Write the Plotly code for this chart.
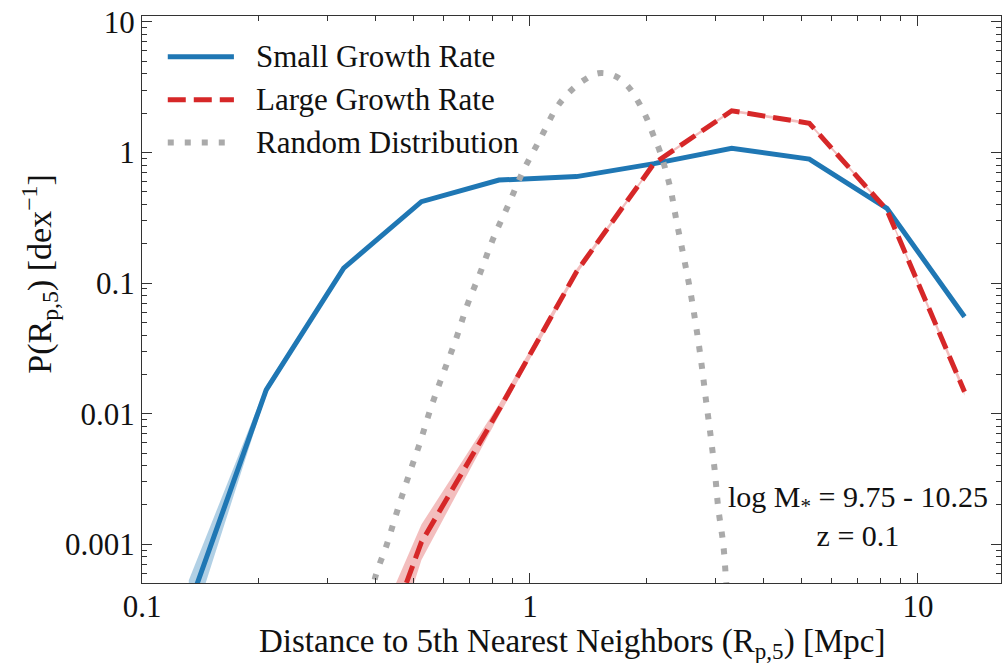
import plotly.graph_objects as go

# Projected distance to the 5th nearest neighbour, bin centres [Mpc]
r_bins = [0.132, 0.209, 0.331, 0.525, 0.832, 1.318, 2.089, 3.311, 5.248, 8.318, 13.18]

# Small growth rate sample: median and band
small_p = [3.3e-4, 0.0152, 0.130, 0.419, 0.614, 0.652, 0.820, 1.074, 0.889, 0.373, 0.0552]
small_lo = [2.0e-4, 0.0141, 0.126, 0.410, 0.602, 0.640, 0.805, 1.055, 0.872, 0.365, 0.0538]
small_hi = [5.3e-4, 0.0164, 0.134, 0.428, 0.626, 0.664, 0.835, 1.093, 0.906, 0.381, 0.0566]

# Large growth rate sample: median and band (starts at the third bin)
large_r = r_bins[2:]
large_p = [2.5e-5, 1.04e-3, 0.0107, 0.122, 0.824, 2.08, 1.67, 0.362, 0.0147]
large_lo = [1.0e-5, 7.6e-4, 0.0097, 0.116, 0.805, 2.03, 1.63, 0.352, 0.0138]
large_hi = [6.0e-5, 1.42e-3, 0.0118, 0.128, 0.843, 2.13, 1.71, 0.372, 0.0157]

# Random (uniform) distribution reference curve
random_r = [0.3936, 0.3986, 0.4272, 0.4550, 0.4856, 0.5206, 0.5556, 0.5976, 0.6434,
            0.6894, 0.7462, 0.8042, 0.8793, 0.9610, 1.0612, 1.1719, 1.2552, 1.3594,
            1.4997, 1.6558, 1.7920, 1.9011, 1.9989, 2.0787, 2.1627, 2.2953, 2.3878,
            2.4946, 2.5954, 2.6890, 2.7700, 2.8417, 2.9220, 2.9976, 3.0569, 3.1492,
            3.2005, 3.228]
random_p = [3.98e-4, 5.50e-4, 9.89e-4, 1.807e-3, 3.289e-3, 5.998e-3, 0.01112, 0.02037,
            0.03664, 0.06792, 0.1221, 0.2198, 0.3954, 0.7236, 1.259, 2.203, 2.831, 3.475,
            4.027, 3.837, 3.181, 2.443, 1.824, 1.358, 1.012, 0.5458, 0.2944, 0.1545,
            0.08337, 0.04365, 0.02355, 0.01271, 6.745e-3, 3.532e-3, 1.888e-3, 1.0e-3,
            5.40e-4, 3.98e-4]

series_names = ["Small Growth Rate", "Large Growth Rate", "Random Distribution"]

x_tick_vals = [0.1, 1, 10]
x_tick_text = ["0.1", "1", "10"]
y_tick_vals = [0.001, 0.01, 0.1, 1, 10]
y_tick_text = ["0.001", "0.01", "0.1", "1", "10"]

BLUE = "#1f77b4"
RED = "#d62728"
GREY = "#aaaaaa"
FONT = "'Liberation Serif', 'DejaVu Serif', serif"
INK = "#111111"

styles = [
    dict(color=BLUE, width=5, dash="solid"),
    dict(color=RED, width=5, dash="18px,8px"),
    dict(color=GREY, width=6, dash="6px,11px"),
]

fig = go.Figure()

# Shaded uncertainty bands
fig.add_trace(go.Scatter(x=r_bins, y=small_lo, mode="lines", line=dict(width=0),
                         showlegend=False, hoverinfo="skip"))
fig.add_trace(go.Scatter(x=r_bins, y=small_hi, mode="lines", line=dict(width=0),
                         fill="tonexty", fillcolor="rgba(31,119,180,0.35)",
                         showlegend=False, hoverinfo="skip"))
fig.add_trace(go.Scatter(x=large_r, y=large_lo, mode="lines", line=dict(width=0),
                         showlegend=False, hoverinfo="skip"))
fig.add_trace(go.Scatter(x=large_r, y=large_hi, mode="lines", line=dict(width=0),
                         fill="tonexty", fillcolor="rgba(214,39,40,0.30)",
                         showlegend=False, hoverinfo="skip"))

fig.add_trace(go.Scatter(x=r_bins, y=small_p, mode="lines", name=series_names[0],
                         line=styles[0], showlegend=False))
fig.add_trace(go.Scatter(x=large_r, y=large_p, mode="lines", name=series_names[1],
                         line=styles[1], showlegend=False))
fig.add_trace(go.Scatter(x=random_r, y=random_p, mode="lines", name=series_names[2],
                         line=dict(**styles[2], shape="spline"), showlegend=False))

# Legend drawn in paper space with long line samples
leg_x0, leg_x1, leg_text_x = 0.030, 0.107, 0.130
leg_y0, leg_dy = 0.928, 0.0755
for i, (name, st) in enumerate(zip(series_names, styles)):
    yy = leg_y0 - i * leg_dy
    fig.add_shape(type="line", xref="paper", yref="paper", x0=leg_x0, x1=leg_x1, y0=yy, y1=yy,
                  line=dict(color=st["color"], width=st["width"], dash=st["dash"]))
    fig.add_annotation(xref="paper", yref="paper", x=leg_text_x, y=yy, xanchor="left",
                       yanchor="middle", showarrow=False, text=name,
                       font=dict(family=FONT, size=31, color=INK))

axis_common = dict(
    type="log",
    showgrid=False,
    zeroline=False,
    showline=True,
    linecolor="#333333",
    linewidth=1.2,
    mirror="allticks",
    ticks="inside",
    ticklen=10,
    tickwidth=1.2,
    tickcolor="#333333",
    tickfont=dict(family=FONT, size=31, color=INK),
    minor=dict(ticks="inside", ticklen=5, tickwidth=1, tickcolor="#333333", dtick="D1"),
)

fig.update_xaxes(**axis_common, range=[-1, 1.214], tickvals=x_tick_vals, ticktext=x_tick_text,
                 ticklabelstandoff=-4)
fig.update_yaxes(**axis_common, range=[-3.296, 1.0436], tickvals=y_tick_vals, ticktext=y_tick_text)

# Axis titles placed in paper space
fig.add_annotation(xref="paper", yref="paper", x=0.5, y=-0.1075, xanchor="center",
                   yanchor="middle", showarrow=False,
                   text="Distance to 5th Nearest Neighbors (R<sub>p,5</sub>) [Mpc]",
                   font=dict(family=FONT, size=33, color=INK))
fig.add_annotation(xref="paper", yref="paper", x=-0.119, y=0.545, xanchor="center",
                   yanchor="middle", textangle=-90, showarrow=False,
                   text="P(R<sub>p,5</sub>) [dex<sup>\u22121</sup>]",
                   font=dict(family=FONT, size=34, color=INK))

fig.add_annotation(x=1.1856, y=-2.783, xref="x", yref="y", xanchor="right", yanchor="middle",
                   align="center", showarrow=False,
                   text="log M<sub>*</sub> = 9.75 - 10.25<br>z = 0.1",
                   font=dict(family=FONT, size=30, color=INK))

fig.update_layout(
    width=1003, height=663,
    margin=dict(l=142, r=2, t=16, b=80),
    paper_bgcolor="white", plot_bgcolor="white",
    showlegend=False,
)

fig.write_html("out.html")
